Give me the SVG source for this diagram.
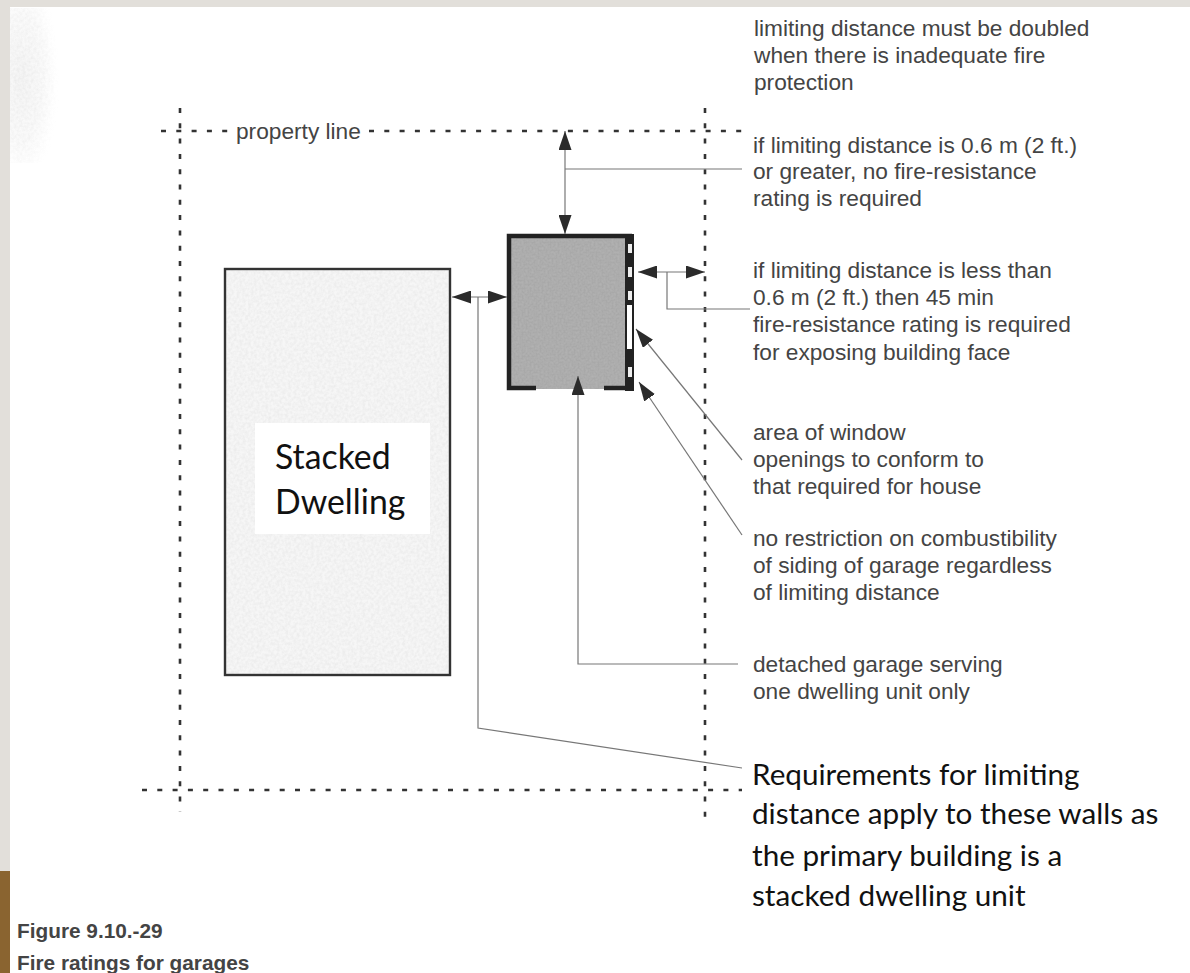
<svg xmlns="http://www.w3.org/2000/svg" width="1190" height="973" viewBox="0 0 1190 973">
<style>
.s{font-family:"Liberation Sans",Arial,sans-serif;font-size:22.7px;fill:#444}
.f{font-family:"Liberation Sans",Arial,sans-serif;font-size:20.8px;font-weight:700;fill:#444}
.c{font-family:"Lato","Open Sans",sans-serif;font-size:29.7px;fill:#111}
.b{font-size:33.8px}
.l{fill:none;stroke:#777;stroke-width:1.2}
.d{fill:none;stroke:#333;stroke-width:2.6;stroke-dasharray:5 10.3}
.a{fill:#2b2b2b}
</style>
<defs>
<marker id="ah" viewBox="0 0 19 13" refX="19" refY="6.5" markerWidth="19" markerHeight="13" markerUnits="userSpaceOnUse" orient="auto-start-reverse"><path d="M0 0L19 6.5L0 13Z" class="a"/></marker>
<radialGradient id="fade" cx="0.2" cy="0.45" r="0.7"><stop offset="0" stop-color="#f4f4f4"/><stop offset="0.6" stop-color="#f8f8f8" stop-opacity="0.7"/><stop offset="1" stop-color="#fff" stop-opacity="0"/></radialGradient>
<filter id="grain" x="0" y="0" width="100%" height="100%"><feTurbulence type="fractalNoise" baseFrequency="0.5" numOctaves="2" seed="4"/><feColorMatrix values="0 0 0 0 0.5 0 0 0 0 0.5 0 0 0 0 0.5 0.9 0 0 0 -0.25"/><feComposite in2="SourceGraphic" operator="in"/><feMerge><feMergeNode in="SourceGraphic"/><feMergeNode/></feMerge></filter>
<filter id="soft" x="0" y="0" width="100%" height="100%"><feTurbulence type="fractalNoise" baseFrequency="0.35" numOctaves="2" seed="9"/><feColorMatrix values="0 0 0 0 0.6 0 0 0 0 0.6 0 0 0 0 0.6 0.5 0 0 0 -0.16"/><feComposite in2="SourceGraphic" operator="in"/><feMerge><feMergeNode in="SourceGraphic"/><feMergeNode/></feMerge></filter>
</defs>
<rect width="1190" height="973" fill="#e2dfda"/>
<rect x="10" y="7" width="1180" height="966" fill="#fff"/>
<rect x="10" y="8" width="55" height="155" fill="url(#fade)" filter="url(#soft)"/>
<rect x="0" y="871" width="10" height="102" fill="#8a6430"/>
<g id="property-lines">
<path class="d" d="M180 108V812"/>
<path class="d" d="M705 108V826"/>
<path class="d" d="M161 131H228"/>
<path class="d" d="M369 131H742"/>
<path class="d" d="M142 790H742"/>
</g>
<g id="stacked-dwelling">
<rect x="225" y="269" width="225" height="406" fill="#f6f6f6" filter="url(#soft)"/>
<rect x="225" y="269" width="225" height="406" fill="none" stroke="#333" stroke-width="2.4"/>
<rect x="255" y="423" width="175" height="111" fill="#fff"/>
<text class="c b" x="275" y="469">Stacked</text>
<text class="c b" x="275" y="514">Dwelling</text>
</g>
<g id="garage">
<rect x="509" y="236" width="118" height="153" fill="#a8a8a8" filter="url(#grain)"/>
<path d="M536 388H509V236H632" fill="none" stroke="#222" stroke-width="4.5"/>
<path d="M604 388H632" fill="none" stroke="#222" stroke-width="4.5"/>
<rect x="625" y="234" width="9" height="157" fill="#222"/>
<rect x="627" y="305" width="5" height="44" fill="#fff"/>
<rect x="628" y="244" width="4" height="9" fill="#eee"/>
<rect x="628" y="267" width="4" height="10" fill="#eee"/>
<rect x="628" y="291" width="4" height="9" fill="#eee"/>
<rect x="628" y="367" width="4" height="10" fill="#eee"/>
</g>
<g id="connectors">
<path class="l" d="M565 131V234" marker-start="url(#ah)" marker-end="url(#ah)"/>
<path class="l" d="M565 169H742"/>
<path class="l" d="M638 272H705" marker-start="url(#ah)" marker-end="url(#ah)"/>
<path class="l" d="M667 272V309H750"/>
<path class="l" d="M452 297H507" marker-start="url(#ah)" marker-end="url(#ah)"/>
<path class="l" d="M478 297V728L742 768"/>
<path class="l" d="M742 460L636 329" marker-end="url(#ah)"/>
<path class="l" d="M742 535L639 382" marker-end="url(#ah)"/>
<path class="l" d="M738 664H578V376" marker-end="url(#ah)"/>
</g>
<g id="labels">
<text class="s" x="236" y="139">property line</text>
<text class="s" x="754" y="36">limiting distance must be doubled</text>
<text class="s" x="754" y="63">when there is inadequate fire</text>
<text class="s" x="754" y="90">protection</text>
<text class="s" x="753" y="153">if limiting distance is 0.6 m (2 ft.)</text>
<text class="s" x="753" y="179">or greater, no fire-resistance</text>
<text class="s" x="753" y="206">rating is required</text>
<text class="s" x="753" y="278">if limiting distance is less than</text>
<text class="s" x="753" y="305">0.6 m (2 ft.) then 45 min</text>
<text class="s" x="753" y="332">fire-resistance rating is required</text>
<text class="s" x="753" y="360">for exposing building face</text>
<text class="s" x="753" y="440">area of window</text>
<text class="s" x="753" y="467">openings to conform to</text>
<text class="s" x="753" y="494">that required for house</text>
<text class="s" x="753" y="546">no restriction on combustibility</text>
<text class="s" x="753" y="573">of siding of garage regardless</text>
<text class="s" x="753" y="600">of limiting distance</text>
<text class="s" x="753" y="672">detached garage serving</text>
<text class="s" x="753" y="699">one dwelling unit only</text>
<text class="c" x="752" y="785">Requirements for limiting</text>
<text class="c" x="752" y="824">distance apply to these walls as</text>
<text class="c" x="752" y="866">the primary building is a</text>
<text class="c" x="752" y="906">stacked dwelling unit</text>
<text class="f" x="17" y="938">Figure 9.10.-29</text>
<text class="f" x="17" y="970">Fire ratings for garages</text>
</g>
</svg>
